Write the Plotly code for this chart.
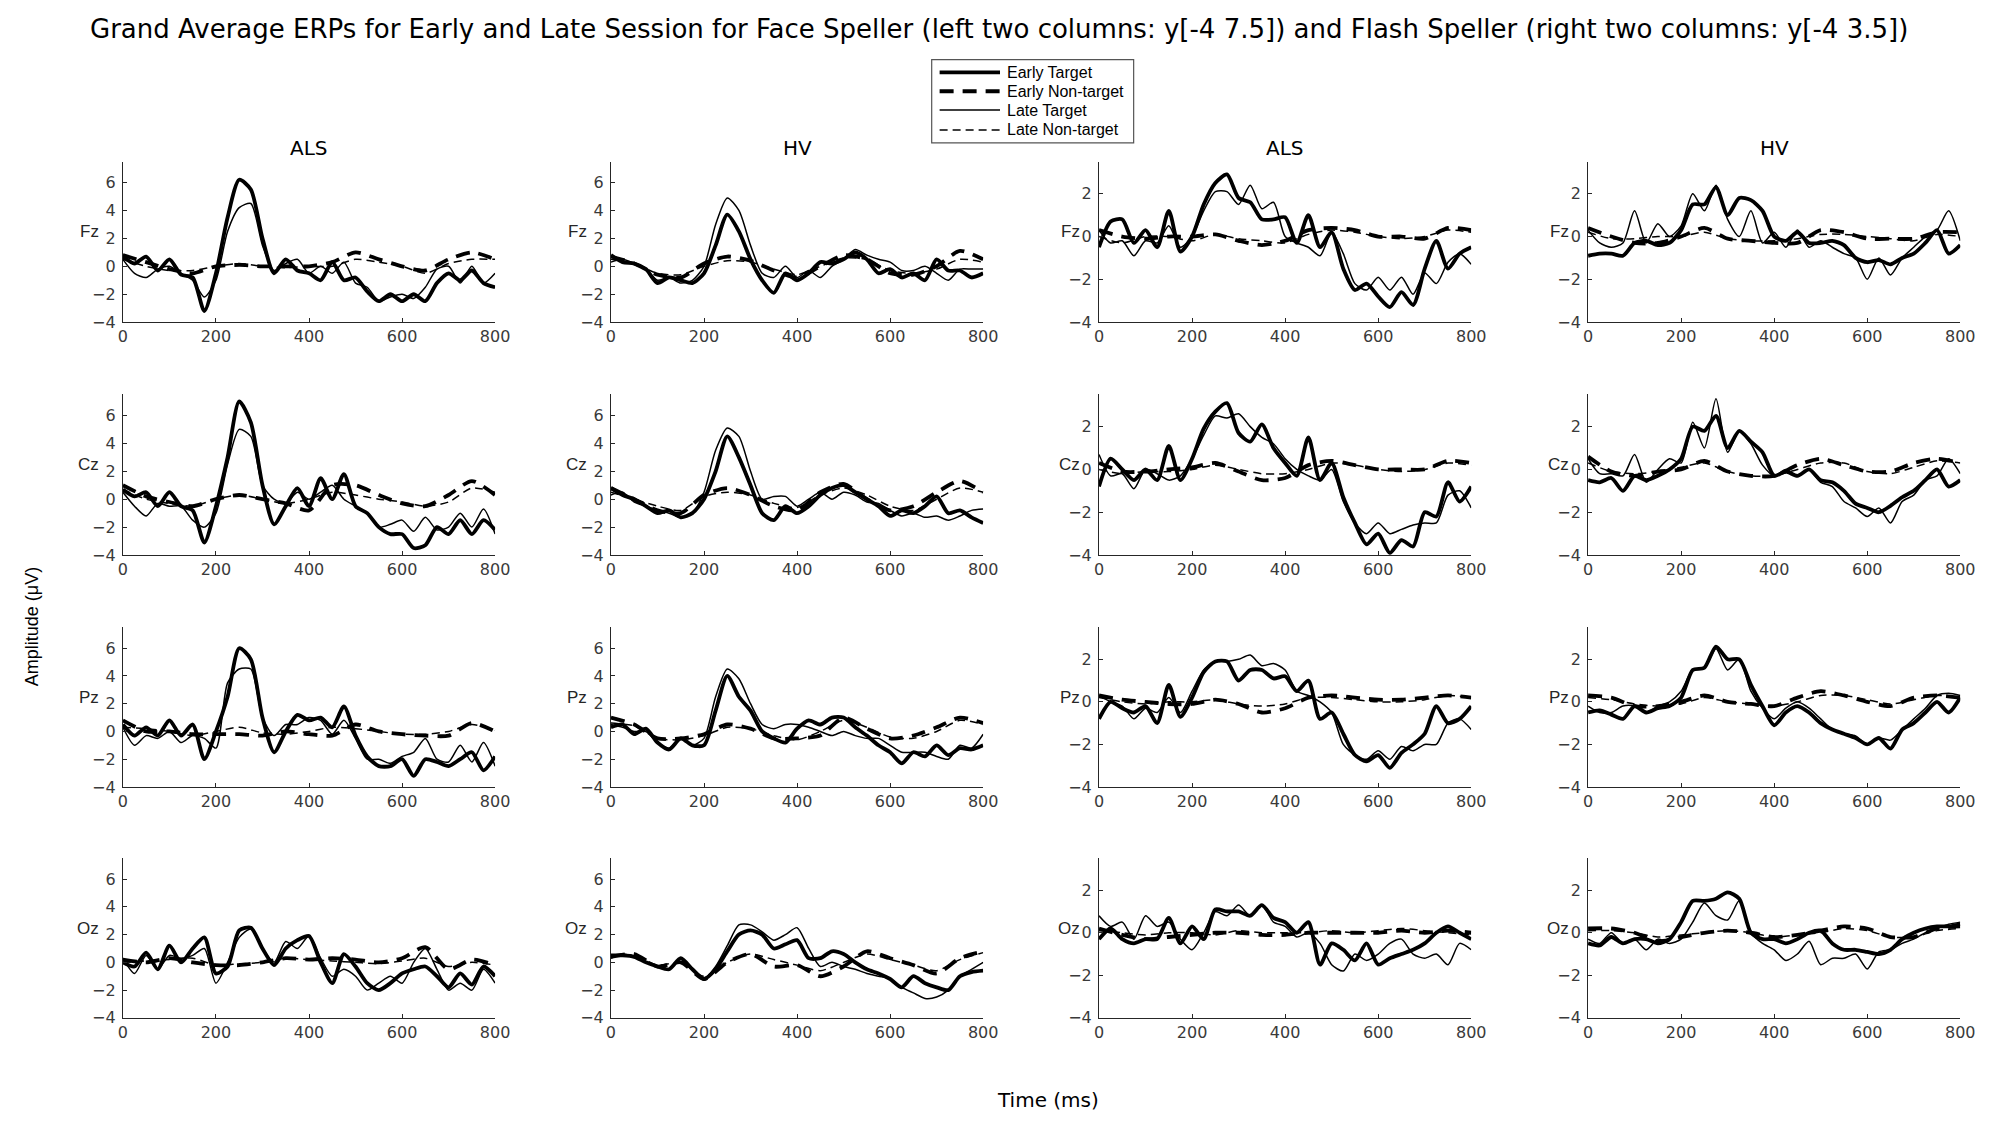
import plotly.graph_objects as go

# time axes (ms)
t_target = [0, 25, 50, 75, 100, 125, 150, 175, 200, 225, 250, 275, 300, 325, 350, 375, 400,
            425, 450, 475, 500, 525, 550, 575, 600, 625, 650, 675, 700, 725, 750, 775, 800]
t_nontarget = [0, 50, 100, 150, 200, 250, 300, 350, 400, 450, 500, 550, 600, 650, 700, 750, 800]

# ---- Face speller, ALS ----
fz_als_face_et = [0.7, 0.2, 0.7, -0.3, 0.5, -0.6, -0.8, -3.2, -0.5, 3.5, 6.2, 5.5, 2.0, -0.5, 0.5, -0.3, -0.5,
                  -1.0, 0.3, -1.0, -0.8, -1.8, -2.5, -2.0, -2.5, -2.0, -2.5, -1.2, -0.5, -1.0, -0.3, -1.2, -1.5]
fz_als_face_lt = [0.5, -0.5, -0.8, -0.2, 0.0, -0.5, -1.0, -2.2, -1.0, 2.5, 4.2, 4.5, 1.5, -0.3, 0.2, 0.5, -0.5,
                  0.0, -0.5, 0.3, -1.2, -1.5, -2.5, -2.2, -2.0, -2.3, -1.5, -0.2, 0.0, -1.2, 0.0, -1.2, -0.5]
fz_als_face_en = [0.8, 0.3, -0.2, -0.5, 0.0, 0.1, 0.0, 0.0, 0.0, 0.3, 1.0, 0.5, 0.0, -0.3, 0.5, 1.0, 0.5]
fz_als_face_ln = [0.5, 0.0, -0.3, -0.3, 0.0, 0.2, 0.0, -0.1, 0.0, 0.0, 0.5, 0.3, 0.0, -0.5, 0.2, 0.5, 0.5]

cz_als_face_et = [0.7, 0.2, 0.5, -0.5, 0.5, -0.5, -0.8, -3.1, -0.5, 3.0, 7.0, 5.5, 1.0, -1.8, -0.5, 0.8, -0.5,
                  1.5, 0.0, 1.8, -0.5, -1.0, -2.0, -2.5, -2.5, -3.5, -3.3, -2.0, -2.5, -1.5, -2.5, -1.5, -2.2]
cz_als_face_lt = [0.5, -0.5, -1.2, -0.3, -0.5, -0.5, -1.5, -2.0, -1.0, 2.5, 5.0, 4.5, 1.0, 0.0, -0.3, 0.5, 0.0,
                  0.5, 1.0, 0.0, -0.5, -1.0, -2.0, -1.8, -1.5, -2.3, -1.3, -2.2, -2.0, -1.0, -2.0, -0.7, -2.5]
cz_als_face_en = [1.0, 0.2, -0.2, -0.5, 0.0, 0.3, 0.0, -0.3, -0.8, 1.0, 1.0, 0.3, -0.3, -0.5, 0.3, 1.3, 0.3]
cz_als_face_ln = [0.7, 0.0, -0.3, -0.5, 0.0, 0.3, 0.0, -0.3, 0.0, 0.5, 0.3, 0.0, -0.2, -0.5, -0.2, 0.8, 0.5]

pz_als_face_et = [0.5, -0.3, 0.3, -0.3, 0.8, -0.3, 0.5, -2.0, 0.0, 2.5, 6.0, 5.2, 1.0, -1.5, 0.0, 1.2, 0.8,
                  1.0, 0.3, 1.8, -0.3, -1.8, -2.5, -2.5, -2.0, -3.2, -2.0, -2.2, -2.5, -2.0, -1.5, -2.8, -1.8]
pz_als_face_lt = [0.3, -1.0, -0.3, -0.5, 0.0, -0.8, -0.3, -0.5, -1.2, 3.5, 4.5, 4.5, 1.0, -0.3, 0.5, 0.5, 1.0,
                  0.8, -0.2, 0.8, -0.5, -2.0, -2.0, -2.3, -1.8, -1.5, -0.5, -2.0, -2.2, -1.0, -2.2, -0.8, -2.5]
pz_als_face_en = [0.8, 0.0, 0.0, -0.2, -0.2, -0.2, -0.3, 0.0, -0.2, -0.3, 0.5, 0.0, -0.2, -0.3, -0.3, 0.6, 0.0]
pz_als_face_ln = [0.3, 0.2, 0.0, -0.3, 0.0, 0.3, -0.1, -0.2, 0.0, 0.3, 0.2, 0.0, -0.2, -0.2, 0.0, 0.5, 0.1]

oz_als_face_et = [0.0, -0.3, 0.7, -0.5, 1.2, 0.0, 1.0, 1.8, -0.8, -0.3, 2.3, 2.5, 1.0, -0.2, 1.0, 1.6, 1.9,
                  0.0, -1.5, 0.6, -0.3, -1.5, -2.0, -1.5, -0.8, -0.5, -0.3, -1.0, -1.8, -0.8, -1.6, -0.3, -1.0]
oz_als_face_lt = [0.3, -0.8, 0.5, -0.5, 0.5, 0.3, 0.5, 1.0, -1.5, 0.0, 1.8, 2.4, 1.0, 0.0, 1.5, 1.0, 1.9,
                  0.3, -1.0, -0.5, -1.0, -2.0, -1.5, -1.0, -1.5, 0.0, 1.0, -0.5, -2.0, -1.5, -2.0, -0.5, -1.5]
oz_als_face_en = [0.2, 0.0, 0.3, 0.0, -0.2, -0.2, 0.0, 0.3, 0.2, 0.3, 0.2, 0.0, 0.3, 1.1, -0.5, 0.2, -0.2]
oz_als_face_ln = [0.0, 0.1, 0.2, 0.3, -0.2, -0.1, 0.0, 0.3, 0.2, 0.1, 0.0, -0.1, 0.1, 0.3, -0.3, 0.0, -0.2]

# ---- Face speller, HV ----
fz_hv_face_et = [0.8, 0.3, 0.2, -0.2, -1.2, -0.8, -1.0, -1.2, -0.5, 1.5, 3.7, 2.5, 0.5, -1.0, -1.9, -0.5, -1.0,
                 -0.5, 0.3, 0.2, 0.5, 1.0, 0.5, -0.5, -0.2, -0.8, -0.5, -1.0, 0.5, -0.3, -0.3, -0.8, -0.5]
fz_hv_face_lt = [0.3, 0.5, 0.2, -0.2, -1.0, -0.8, -1.2, -1.0, 0.0, 3.0, 4.9, 4.0, 1.5, -0.5, -0.8, 0.0, -0.8,
                 -0.3, -0.8, 0.0, 0.5, 1.2, 0.8, 0.5, 0.3, -0.3, -0.3, 0.0, -0.5, -1.0, -0.2, -0.2, -0.2]
fz_hv_face_en = [0.7, 0.2, -0.6, -0.8, 0.2, 0.7, 0.4, -0.3, -0.8, 0.0, 0.8, 0.5, -0.5, -0.6, 0.0, 1.1, 0.5]
fz_hv_face_ln = [0.5, 0.2, -0.5, -0.6, 0.0, 0.4, 0.3, -0.2, -0.6, 0.0, 0.6, 0.5, -0.3, -0.5, -0.2, 0.5, 0.3]

cz_hv_face_et = [0.8, 0.3, 0.0, -0.5, -1.0, -0.8, -1.3, -1.0, 0.0, 2.0, 4.5, 3.0, 1.0, -1.0, -1.5, -0.5, -1.0,
                 -0.5, 0.3, 0.8, 1.0, 0.5, 0.0, -0.5, -1.2, -0.8, -1.0, -0.5, 0.2, -1.0, -0.8, -1.3, -1.7]
cz_hv_face_lt = [0.3, 0.5, -0.2, -0.5, -0.8, -1.0, -1.3, -1.0, 0.5, 3.5, 5.1, 4.5, 2.0, 0.0, 0.2, 0.2, -0.5,
                 0.0, 0.5, 0.0, 0.5, 0.3, -0.2, -0.3, -0.8, -1.2, -1.0, -1.3, -1.2, -1.5, -1.2, -0.8, -0.7]
cz_hv_face_en = [0.8, 0.0, -0.8, -1.0, 0.3, 0.8, 0.3, -0.5, -0.8, 0.5, 1.1, 0.0, -0.8, -0.5, 0.5, 1.3, 0.5]
cz_hv_face_ln = [0.5, 0.0, -0.5, -0.8, 0.2, 0.5, 0.3, -0.3, -0.6, 0.3, 0.8, 0.3, -0.5, -0.8, 0.0, 0.8, 0.5]

pz_hv_face_et = [0.3, 0.5, -0.2, 0.2, -0.8, -1.3, -0.5, -1.0, -1.0, 1.5, 4.0, 2.5, 1.5, 0.0, -0.5, -0.8, 0.2,
                 0.8, 0.5, 1.0, 1.0, 0.3, -0.3, -1.0, -1.5, -2.3, -1.5, -1.8, -1.0, -1.7, -1.2, -1.3, -1.0]
pz_hv_face_lt = [0.5, 0.3, 0.0, 0.0, -0.8, -1.2, -0.5, -1.0, -0.5, 2.5, 4.5, 3.8, 2.0, 0.5, 0.2, 0.5, 0.5,
                 0.3, 0.0, -0.3, 0.0, -0.3, -0.5, -0.5, -1.0, -1.5, -1.5, -1.5, -1.8, -2.0, -1.0, -1.2, -0.2]
pz_hv_face_en = [1.0, 0.5, -0.5, -0.5, -0.2, 0.5, 0.2, -0.5, -0.5, -0.3, 1.0, 0.2, -0.5, -0.3, 0.3, 1.0, 0.6]
pz_hv_face_ln = [0.6, 0.4, -0.5, -0.6, -0.3, 0.3, 0.2, -0.3, -0.6, 0.0, 0.8, 0.3, -0.4, -0.5, 0.0, 0.8, 0.5]

oz_hv_face_et = [0.5, 0.5, 0.4, 0.0, -0.3, -0.5, 0.3, -0.5, -1.2, -0.5, 0.8, 2.0, 2.3, 2.0, 1.0, 1.3, 1.6,
                 0.3, 0.3, 0.8, 0.6, 0.0, -0.5, -0.8, -1.2, -1.8, -1.0, -1.5, -1.8, -2.0, -1.0, -0.7, -0.6]
oz_hv_face_lt = [0.3, 0.6, 0.4, 0.0, -0.3, -0.5, 0.3, -0.5, -1.2, -0.3, 1.2, 2.7, 2.7, 2.2, 1.6, 2.0, 2.5,
                 1.0, -0.3, 0.0, -0.3, -0.5, -0.8, -1.0, -1.2, -1.8, -2.2, -2.6, -2.5, -2.0, -1.0, -0.5, 0.0]
oz_hv_face_en = [0.4, 0.6, -0.3, 0.0, -1.2, 0.0, 0.6, -0.3, -0.2, -1.0, -0.3, 0.8, 0.3, -0.2, -0.8, 0.3, 0.8]
oz_hv_face_ln = [0.5, 0.5, -0.2, 0.0, -1.0, 0.0, 0.6, 0.2, -0.2, -0.6, 0.0, 0.6, 0.2, -0.2, -0.6, 0.2, 0.7]

# ---- Flash speller, ALS ----
fz_als_flash_et = [-0.5, 0.7, 0.8, -0.3, 0.3, -0.5, 1.2, -0.7, 0.0, 1.5, 2.5, 2.9, 1.8, 1.6, 0.8, 0.8, 0.9,
                   -0.3, 1.0, -0.5, 0.2, -1.5, -2.5, -2.2, -2.8, -3.3, -2.6, -3.2, -1.5, -0.2, -1.5, -0.8, -0.5]
fz_als_flash_lt = [0.3, -0.3, -0.2, -0.9, -0.2, -0.3, 0.5, -0.5, 0.0, 1.2, 2.1, 2.1, 1.5, 2.4, 1.3, 1.6, 0.0,
                   -0.3, -0.5, -0.9, 0.2, -0.8, -2.2, -2.5, -1.9, -2.5, -1.9, -2.7, -1.7, -2.2, -1.2, -0.8, -1.3]
fz_als_flash_en = [0.3, 0.0, -0.1, 0.0, 0.0, 0.1, -0.2, -0.4, -0.2, 0.3, 0.4, 0.3, 0.0, 0.0, -0.1, 0.4, 0.3]
fz_als_flash_ln = [0.0, -0.3, 0.0, 0.0, -0.2, 0.1, -0.1, -0.2, -0.3, 0.1, 0.3, 0.2, 0.0, -0.1, 0.0, 0.3, 0.2]

cz_als_flash_et = [-0.8, 0.5, 0.0, -0.5, 0.0, -0.5, 1.1, -0.5, 0.5, 1.9, 2.7, 3.1, 1.7, 1.3, 2.1, 1.0, 0.3,
                   -0.3, 1.5, -0.5, 0.3, -1.3, -2.5, -3.5, -3.0, -3.9, -3.3, -3.6, -2.0, -2.2, -0.6, -1.5, -0.8]
cz_als_flash_lt = [0.7, -0.3, -0.2, -0.9, 0.0, -0.2, -0.5, -0.3, 0.5, 1.6, 2.5, 2.4, 2.6, 2.0, 1.5, 1.2, 0.5,
                   0.0, -0.3, -0.5, 0.0, -1.5, -2.5, -3.0, -2.5, -3.0, -2.8, -2.6, -2.5, -2.5, -1.2, -1.0, -1.8]
cz_als_flash_en = [0.3, -0.1, -0.1, 0.0, 0.1, 0.3, -0.1, -0.5, -0.4, 0.2, 0.4, 0.2, 0.0, 0.0, 0.0, 0.4, 0.3]
cz_als_flash_ln = [0.0, -0.2, -0.1, -0.1, 0.0, 0.2, 0.0, -0.2, -0.2, 0.0, 0.3, 0.2, 0.0, -0.1, 0.0, 0.3, 0.2]

pz_als_flash_et = [-0.8, 0.0, -0.3, -0.5, -0.2, -1.0, 0.8, -0.7, 0.2, 1.4, 1.9, 1.9, 1.0, 1.5, 1.5, 1.1, 1.2,
                   0.5, 1.0, -0.8, -0.5, -1.5, -2.5, -2.8, -2.5, -3.1, -2.4, -2.0, -1.5, -0.2, -1.0, -0.8, -0.2]
pz_als_flash_lt = [0.3, 0.0, -0.2, -0.8, -0.3, -0.5, 0.2, -0.5, 0.5, 1.5, 1.9, 1.9, 2.0, 2.2, 1.7, 1.8, 1.5,
                   0.5, 0.3, 0.0, -0.5, -2.0, -2.5, -2.7, -2.3, -2.7, -2.1, -2.3, -2.0, -2.0, -1.0, -0.8, -1.3]
pz_als_flash_en = [0.3, 0.1, 0.0, -0.1, -0.1, 0.1, -0.1, -0.5, -0.3, 0.2, 0.3, 0.2, 0.1, 0.1, 0.2, 0.3, 0.2]
pz_als_flash_ln = [0.2, 0.0, -0.1, 0.0, 0.0, 0.1, -0.1, -0.2, -0.1, 0.2, 0.2, 0.1, 0.0, 0.0, 0.1, 0.3, 0.2]

oz_als_flash_et = [-0.3, 0.2, -0.3, -0.5, -0.3, -0.3, 0.7, -0.5, 0.3, -0.3, 1.1, 1.0, 1.0, 0.8, 1.3, 0.7, 0.5,
                   0.0, 0.5, -1.5, -0.5, -0.8, -1.3, -0.5, -1.5, -1.2, -1.0, -0.8, -0.5, 0.0, 0.3, 0.0, -0.3]
oz_als_flash_lt = [0.8, 0.3, 0.5, -0.3, 0.8, 0.3, 0.5, -0.3, -0.8, 0.0, 1.0, 0.8, 1.3, 0.8, 1.3, 0.5, 0.3,
                   -0.2, 0.0, -0.5, -1.5, -1.8, -1.0, -1.3, -1.0, -0.5, -0.3, -1.0, -1.2, -1.0, -1.5, -0.5, -0.8]
oz_als_flash_en = [0.2, -0.1, -0.3, -0.2, -0.1, 0.0, 0.0, -0.1, -0.1, 0.0, 0.0, 0.0, 0.0, 0.1, 0.0, 0.1, 0.0]
oz_als_flash_ln = [0.1, 0.0, -0.1, 0.0, 0.0, -0.1, 0.1, 0.0, 0.0, 0.0, 0.1, 0.0, 0.1, 0.2, 0.1, 0.0, -0.1]

# ---- Flash speller, HV ----
fz_hv_flash_et = [-0.9, -0.8, -0.8, -0.9, -0.3, -0.2, -0.4, -0.3, 0.3, 1.5, 1.5, 2.3, 1.0, 1.8, 1.7, 1.2, 0.0,
                  -0.2, 0.2, -0.3, -0.3, -0.2, -0.4, -1.0, -1.2, -1.1, -1.3, -1.0, -0.8, -0.3, 0.3, -0.8, -0.4]
fz_hv_flash_lt = [0.3, -0.3, -0.5, -0.3, 1.2, -0.3, 0.6, 0.0, 0.5, 2.0, 1.2, 2.4, 0.8, 0.0, 1.2, -0.3, 0.2,
                  -0.5, 0.3, -0.5, -0.2, -0.5, -0.8, -1.0, -2.0, -1.0, -1.8, -1.0, -0.5, 0.0, 0.3, 1.2, -0.2]
fz_hv_flash_en = [0.4, 0.0, -0.3, -0.3, 0.0, 0.4, -0.1, -0.2, -0.3, -0.3, 0.3, 0.2, -0.1, -0.1, -0.1, 0.2, 0.2]
fz_hv_flash_ln = [0.2, -0.1, -0.1, 0.0, 0.0, 0.2, -0.1, -0.2, -0.2, -0.1, 0.1, 0.1, 0.0, -0.1, -0.2, 0.1, 0.0]

cz_hv_flash_et = [-0.5, -0.6, -0.4, -1.0, -0.3, -0.5, -0.3, 0.0, 0.5, 2.0, 1.8, 2.5, 1.0, 1.8, 1.3, 0.8, -0.3,
                  -0.1, -0.3, 0.0, -0.5, -0.6, -1.0, -1.6, -1.8, -2.0, -1.7, -1.3, -1.0, -0.5, 0.0, -0.8, -0.5]
cz_hv_flash_lt = [0.5, -0.2, -0.2, -0.3, 0.7, -0.6, 0.0, 0.5, 0.3, 2.2, 1.0, 3.3, 0.8, 1.8, 1.2, 0.2, -0.3,
                  0.0, -0.3, 0.0, -0.6, -0.8, -1.5, -1.8, -2.2, -1.8, -2.5, -1.5, -1.2, -0.5, -0.3, 0.5, -0.2]
cz_hv_flash_en = [0.6, -0.1, -0.3, -0.1, 0.0, 0.4, -0.1, -0.3, -0.3, 0.2, 0.5, 0.2, -0.1, -0.1, 0.3, 0.5, 0.3]
cz_hv_flash_ln = [0.3, -0.1, -0.2, -0.1, 0.1, 0.3, -0.1, -0.3, -0.3, 0.0, 0.3, 0.3, -0.1, -0.2, 0.1, 0.4, 0.3]

pz_hv_flash_et = [-0.5, -0.4, -0.6, -0.8, -0.2, -0.5, -0.3, -0.2, 0.2, 1.5, 1.6, 2.6, 2.0, 2.0, 0.8, -0.2, -1.1,
                  -0.5, -0.2, -0.5, -1.0, -1.3, -1.5, -1.7, -2.0, -1.7, -2.2, -1.3, -1.0, -0.5, 0.0, -0.5, 0.2]
pz_hv_flash_lt = [-0.2, -0.5, -0.5, -0.2, -0.2, -0.5, -0.2, 0.0, 0.5, 1.5, 1.6, 2.5, 1.5, 2.0, 0.5, -0.3, -0.8,
                  -0.3, 0.0, -0.3, -0.8, -1.3, -1.5, -1.6, -2.0, -1.7, -1.8, -1.3, -0.8, -0.3, 0.3, 0.4, 0.3]
pz_hv_flash_en = [0.3, 0.2, -0.2, -0.2, 0.0, 0.3, 0.0, -0.1, -0.2, 0.2, 0.5, 0.3, 0.0, -0.2, 0.2, 0.3, 0.2]
pz_hv_flash_ln = [0.2, 0.1, -0.1, -0.2, -0.1, 0.2, 0.0, -0.1, -0.2, 0.0, 0.3, 0.3, 0.1, -0.1, 0.1, 0.3, 0.2]

oz_hv_flash_et = [-0.5, -0.6, -0.2, -0.5, -0.3, -0.3, -0.5, -0.3, 0.5, 1.5, 1.5, 1.6, 1.9, 1.6, 0.0, -0.3, -0.3,
                  -0.5, -0.3, 0.0, 0.1, -0.5, -0.8, -0.8, -0.9, -1.0, -0.8, -0.3, 0.0, 0.2, 0.3, 0.3, 0.4]
oz_hv_flash_lt = [-0.3, -0.5, 0.0, -0.5, -0.3, -0.8, -0.3, -0.5, -0.3, 0.5, 1.4, 0.8, 0.6, 1.5, 0.0, -0.5, -0.8,
                  -1.3, -1.0, -0.4, -1.5, -1.2, -1.2, -1.0, -1.7, -0.9, -0.8, -0.5, -0.3, 0.0, 0.2, 0.4, 0.5]
oz_hv_flash_en = [0.2, 0.2, 0.0, -0.4, -0.2, 0.0, 0.1, 0.0, -0.2, -0.1, 0.1, 0.3, 0.2, -0.2, -0.2, 0.2, 0.3]
oz_hv_flash_ln = [0.1, 0.1, 0.0, -0.2, -0.1, 0.0, 0.1, 0.0, -0.2, -0.1, 0.0, 0.2, 0.1, -0.2, -0.2, 0.1, 0.2]

electrodes = ['Fz', 'Cz', 'Pz', 'Oz']
col_titles = ['ALS', 'HV', 'ALS', 'HV']
series_names = ['Early Target', 'Early Non-target', 'Late Target', 'Late Non-target']

# panels[row][col] = (early target, early non-target, late target, late non-target)
panels = [
    [(fz_als_face_et, fz_als_face_en, fz_als_face_lt, fz_als_face_ln),
     (fz_hv_face_et, fz_hv_face_en, fz_hv_face_lt, fz_hv_face_ln),
     (fz_als_flash_et, fz_als_flash_en, fz_als_flash_lt, fz_als_flash_ln),
     (fz_hv_flash_et, fz_hv_flash_en, fz_hv_flash_lt, fz_hv_flash_ln)],
    [(cz_als_face_et, cz_als_face_en, cz_als_face_lt, cz_als_face_ln),
     (cz_hv_face_et, cz_hv_face_en, cz_hv_face_lt, cz_hv_face_ln),
     (cz_als_flash_et, cz_als_flash_en, cz_als_flash_lt, cz_als_flash_ln),
     (cz_hv_flash_et, cz_hv_flash_en, cz_hv_flash_lt, cz_hv_flash_ln)],
    [(pz_als_face_et, pz_als_face_en, pz_als_face_lt, pz_als_face_ln),
     (pz_hv_face_et, pz_hv_face_en, pz_hv_face_lt, pz_hv_face_ln),
     (pz_als_flash_et, pz_als_flash_en, pz_als_flash_lt, pz_als_flash_ln),
     (pz_hv_flash_et, pz_hv_flash_en, pz_hv_flash_lt, pz_hv_flash_ln)],
    [(oz_als_face_et, oz_als_face_en, oz_als_face_lt, oz_als_face_ln),
     (oz_hv_face_et, oz_hv_face_en, oz_hv_face_lt, oz_hv_face_ln),
     (oz_als_flash_et, oz_als_flash_en, oz_als_flash_lt, oz_als_flash_ln),
     (oz_hv_flash_et, oz_hv_flash_en, oz_hv_flash_lt, oz_hv_flash_ln)],
]

# page is 2011x1130; the html body has an 8px margin, so the figure is a bit smaller
PAGE_W, PAGE_H, MARGIN = 2011, 1130, 8
W, H = PAGE_W - 2 * MARGIN, PAGE_H - 2 * MARGIN


def fx(px):
    return (px - MARGIN) / W


def fy(py):
    return 1 - (py - MARGIN) / H


col_px = [(119, 495), (612, 988), (1105, 1481), (1599, 1975)]
row_px = [(163, 325), (398, 560), (633, 794), (866, 1027)]

SANS = 'Liberation Sans, Arial, sans-serif'
WIDE = 'DejaVu Sans, Liberation Sans, sans-serif'
INK = '#262626'

styles = [dict(width=3.8, dash='solid'),
          dict(width=3.8, dash='14px,9px'),
          dict(width=1.5, dash='solid'),
          dict(width=1.5, dash='8px,5px')]

fig = go.Figure()
layout = dict(width=W, height=H, margin=dict(l=0, r=0, t=0, b=0),
              paper_bgcolor='white', plot_bgcolor='white', font=dict(family=SANS, color=INK),
              showlegend=False)
annotations = []
shapes = []

for r in range(4):
    for c in range(4):
        k = r * 4 + c + 1
        xa = 'xaxis' if k == 1 else 'xaxis%d' % k
        ya = 'yaxis' if k == 1 else 'yaxis%d' % k
        xr = 'x' if k == 1 else 'x%d' % k
        yr = 'y' if k == 1 else 'y%d' % k
        x0, x1 = col_px[c]
        y0, y1 = row_px[r]
        face = c < 2
        yrange = [-4, 7.5] if face else [-4, 3.5]
        yticks = [-4, -2, 0, 2, 4, 6] if face else [-4, -2, 0, 2]

        data = panels[r][c]
        for i in range(4):
            tx = t_target if i in (0, 2) else t_nontarget
            fig.add_trace(go.Scatter(
                x=tx, y=data[i], mode='lines', name=series_names[i],
                line=dict(color='black', width=styles[i]['width'], dash=styles[i]['dash'],
                          shape='spline', smoothing=0.7),
                xaxis=xr, yaxis=yr, hoverinfo='skip'))

        layout[xa] = dict(domain=[fx(x0), fx(x1)], anchor=yr, range=[0, 800],
                          tickvals=[0, 200, 400, 600, 800], ticks='inside', ticklen=4,
                          tickcolor=INK, showline=True, linecolor=INK, linewidth=1,
                          showgrid=False, zeroline=False, ticklabelstandoff=0,
                          tickfont=dict(family=WIDE, size=16, color='#3a3a3a'))
        layout[ya] = dict(domain=[fy(y1), fy(y0)], anchor=xr, range=yrange,
                          tickvals=yticks, ticks='inside', ticklen=4,
                          tickcolor=INK, showline=True, linecolor=INK, linewidth=1,
                          showgrid=False, zeroline=False, ticklabelstandoff=3,
                          tickfont=dict(family=WIDE, size=16, color='#3a3a3a'))

        # electrode label to the left of the tick labels
        annotations.append(dict(text=electrodes[r], xref='paper', yref='paper',
                                x=fx(x0 - (22 if face else 17)), y=fy((y0 + y1) / 2 - 10),
                                xanchor='right', yanchor='middle', showarrow=False,
                                font=dict(family=SANS, size=17, color=INK)))
        if r == 0:
            annotations.append(dict(text=col_titles[c], xref='paper', yref='paper',
                                    x=fx((x0 + x1) / 2), y=fy(149),
                                    xanchor='center', yanchor='middle', showarrow=False,
                                    font=dict(family=WIDE, size=20, color='black')))

annotations.append(dict(
    text='Grand Average ERPs for Early and Late Session for Face Speller (left two columns: y[-4 7.5]) '
         'and Flash Speller (right two columns: y[-4 3.5])',
    xref='paper', yref='paper', x=fx(1004), y=fy(29), xanchor='center', yanchor='middle',
    showarrow=False, font=dict(family=WIDE, size=26, color='black')))
annotations.append(dict(text='Amplitude (\u03bcV)', xref='paper', yref='paper', x=fx(28), y=fy(632),
                        textangle=-90, xanchor='center', yanchor='middle', showarrow=False,
                        font=dict(family=SANS, size=18, color='black')))
annotations.append(dict(text='Time (ms)', xref='paper', yref='paper', x=fx(1053), y=fy(1110),
                        xanchor='center', yanchor='middle', showarrow=False,
                        font=dict(family=WIDE, size=20, color='black')))

# legend box drawn by hand (MATLAB style: long line samples, tight rows)
shapes.append(dict(type='rect', xref='paper', yref='paper', x0=fx(936), x1=fx(1140),
                   y0=fy(144), y1=fy(60), line=dict(color='#555555', width=1.2),
                   fillcolor='white', layer='above'))
legend_rows = [73, 92, 111, 131]
for i in range(4):
    shapes.append(dict(type='line', xref='paper', yref='paper', x0=fx(944), x1=fx(1005),
                       y0=fy(legend_rows[i]), y1=fy(legend_rows[i]), layer='above',
                       line=dict(color='black', width=styles[i]['width'], dash=styles[i]['dash'])))
    annotations.append(dict(text=series_names[i], xref='paper', yref='paper',
                            x=fx(1010), y=fy(legend_rows[i]), xanchor='left', yanchor='middle',
                            showarrow=False, font=dict(family=SANS, size=16, color='black')))

layout['annotations'] = annotations
layout['shapes'] = shapes

fig.update_layout(**layout)
fig.write_html("out.html")
